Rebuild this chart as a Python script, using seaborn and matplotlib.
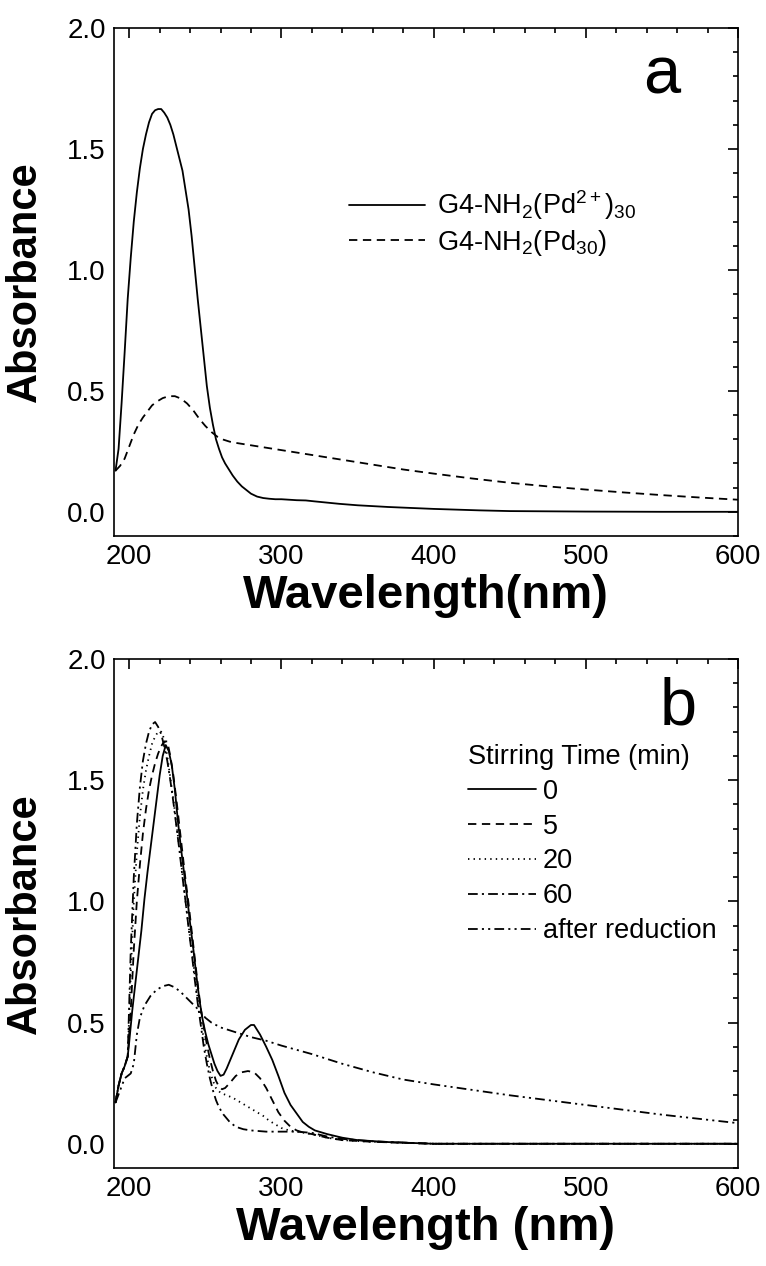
import numpy as np
import pandas as pd
import matplotlib
matplotlib.use("Agg")
import matplotlib.pyplot as plt
import seaborn as sns

# ---------------- data ----------------
# Panel a
a_wl_ion = [191, 193, 195, 197, 199, 201, 203, 205, 207, 209, 211, 213, 215, 217, 219, 221,
            223, 225, 227, 229, 231, 233, 235, 237, 239, 241, 243, 245, 247, 249, 251, 253,
            255, 257, 259, 261, 263, 265, 268, 271, 274, 277, 280, 284, 288, 292, 296, 300,
            305, 310, 316, 322, 330, 338, 350, 370, 400, 430, 450, 500, 550, 600]
a_abs_ion = [0.17, 0.26, 0.45, 0.66, 0.88, 1.05, 1.20, 1.32, 1.42, 1.50, 1.56, 1.61, 1.645, 1.66, 1.665, 1.665,
             1.65, 1.63, 1.60, 1.56, 1.51, 1.46, 1.41, 1.33, 1.25, 1.14, 1.01, 0.88, 0.76, 0.64, 0.52, 0.43,
             0.36, 0.30, 0.26, 0.225, 0.20, 0.18, 0.15, 0.125, 0.105, 0.09, 0.075, 0.063, 0.057, 0.054, 0.052, 0.052,
             0.050, 0.048, 0.047, 0.043, 0.038, 0.033, 0.027, 0.02, 0.012, 0.006, 0.003, 0.001, 0.0, 0.0]

a_wl_np = [191, 194, 197, 200, 203, 206, 209, 212, 215, 218, 222, 226, 230, 234, 238, 242,
           246, 250, 254, 258, 262, 266, 270, 275, 280, 290, 300, 320, 340, 360, 380, 400,
           425, 450, 475, 500, 525, 550, 575, 600]
a_abs_np = [0.17, 0.19, 0.22, 0.27, 0.32, 0.36, 0.39, 0.415, 0.44, 0.455, 0.47, 0.478, 0.478, 0.468, 0.448, 0.42,
            0.385, 0.355, 0.33, 0.31, 0.298, 0.29, 0.285, 0.28, 0.275, 0.265, 0.255, 0.235, 0.215, 0.195, 0.175, 0.158,
            0.138, 0.12, 0.105, 0.092, 0.08, 0.069, 0.059, 0.05]

# Panel b
b_wl_0 = [191, 193, 195, 197, 199, 200, 202, 204, 206, 208, 210, 212, 214, 216, 218, 220, 222, 224,
          226, 228, 230, 232, 234, 236, 238, 240, 242, 244, 246, 248, 250, 252, 254, 256, 258, 260,
          262, 264, 268, 272, 276, 280, 282, 286, 290, 294, 298, 302, 306, 310, 314, 318, 322,
          330, 340, 350, 370, 400, 450, 500, 600]
b_abs_0 = [0.17, 0.24, 0.29, 0.32, 0.36, 0.42, 0.55, 0.66, 0.77, 0.88, 1.01, 1.12, 1.22, 1.32, 1.42, 1.52, 1.60, 1.645,
           1.62, 1.56, 1.46, 1.33, 1.22, 1.12, 1.02, 0.91, 0.81, 0.70, 0.60, 0.52, 0.46, 0.41, 0.37, 0.33, 0.30, 0.28,
           0.285, 0.31, 0.37, 0.43, 0.47, 0.49, 0.49, 0.45, 0.40, 0.346, 0.28, 0.21, 0.16, 0.125, 0.09, 0.07, 0.055,
           0.04, 0.025, 0.015, 0.007, 0.0, 0.0, 0.0, 0.0]

b_wl_5 = [191, 193, 195, 197, 199, 201, 203, 205, 207, 209, 211, 213, 215, 217, 219, 221, 223, 225,
          227, 229, 231, 233, 235, 237, 239, 241, 243, 245, 247, 249, 251, 253, 255, 257, 259, 261,
          263, 266, 270, 274, 278, 282, 286, 290, 294, 298, 302, 306, 310, 315, 320, 330, 340, 360,
          400, 600]
b_abs_5 = [0.17, 0.24, 0.29, 0.32, 0.36, 0.55, 0.80, 1.00, 1.15, 1.28, 1.38, 1.46, 1.52, 1.57, 1.61, 1.64, 1.66, 1.66,
           1.60, 1.52, 1.42, 1.31, 1.20, 1.09, 0.99, 0.88, 0.77, 0.66, 0.56, 0.48, 0.41, 0.35, 0.30, 0.26, 0.235, 0.225,
           0.23, 0.25, 0.28, 0.295, 0.30, 0.295, 0.27, 0.23, 0.18, 0.13, 0.095, 0.07, 0.055, 0.045, 0.04, 0.025, 0.015, 0.008,
           0.0, 0.0]

b_wl_20 = [191, 193, 195, 197, 199, 201, 203, 205, 207, 209, 211, 213, 215, 217, 219, 221, 223, 225,
           227, 229, 231, 233, 235, 237, 239, 241, 243, 245, 247, 249, 251, 253, 255, 257, 260, 264,
           268, 272, 276, 280, 284, 288, 292, 296, 300, 305, 310, 320, 330, 340, 360, 400, 600]
b_abs_20 = [0.17, 0.24, 0.29, 0.32, 0.36, 0.70, 1.00, 1.20, 1.35, 1.46, 1.54, 1.60, 1.65, 1.68, 1.70, 1.70, 1.67, 1.60,
            1.51, 1.42, 1.32, 1.22, 1.11, 1.00, 0.90, 0.80, 0.70, 0.60, 0.51, 0.43, 0.36, 0.30, 0.26, 0.23, 0.21, 0.20,
            0.19, 0.175, 0.16, 0.145, 0.13, 0.115, 0.095, 0.08, 0.065, 0.055, 0.05, 0.04, 0.025, 0.015, 0.008, 0.0, 0.0]

b_wl_60 = [191, 193, 195, 197, 199, 201, 203, 205, 207, 209, 211, 213, 215, 217, 219, 221, 223, 225,
           227, 229, 231, 233, 235, 237, 239, 241, 243, 245, 247, 249, 251, 253, 255, 257, 259, 262,
           266, 270, 275, 280, 290, 300, 310, 320, 330, 340, 360, 400, 600]
b_abs_60 = [0.17, 0.24, 0.29, 0.32, 0.36, 0.80, 1.10, 1.32, 1.47, 1.58, 1.65, 1.70, 1.73, 1.74, 1.72, 1.69, 1.64, 1.58,
            1.50, 1.41, 1.31, 1.21, 1.10, 1.00, 0.89, 0.79, 0.68, 0.58, 0.49, 0.40, 0.33, 0.27, 0.22, 0.18, 0.15, 0.12,
            0.09, 0.07, 0.06, 0.055, 0.05, 0.05, 0.05, 0.045, 0.03, 0.02, 0.01, 0.0, 0.0]

b_wl_red = [191, 194, 197, 199, 201, 203, 205, 207, 210, 214, 218, 222, 226, 230, 234, 238, 242, 246,
            250, 254, 260, 270, 280, 290, 300, 320, 340, 360, 380, 400, 450, 500, 550, 600]
b_abs_red = [0.17, 0.22, 0.27, 0.28, 0.29, 0.33, 0.45, 0.52, 0.57, 0.61, 0.635, 0.65, 0.656, 0.645, 0.625, 0.60, 0.575, 0.55,
             0.52, 0.50, 0.48, 0.46, 0.44, 0.425, 0.405, 0.37, 0.33, 0.295, 0.265, 0.245, 0.20, 0.16, 0.12, 0.085]

legend_a = [r"G4-NH$_2$(Pd$^{2+}$)$_{30}$", r"G4-NH$_2$(Pd$_{30}$)"]
legend_b_title = "Stirring Time (min)"
legend_b = ["0", "5", "20", "60", "after reduction"]
x_ticks = [200, 300, 400, 500, 600]
y_ticks = [0.0, 0.5, 1.0, 1.5, 2.0]

# ---------------- style ----------------
sns.set_theme(style="white")
plt.rcParams["font.family"] = ["Liberation Sans", "DejaVu Sans"]
plt.rcParams["mathtext.fontset"] = "custom"
plt.rcParams["mathtext.rm"] = "Liberation Sans"
plt.rcParams["mathtext.it"] = "Liberation Sans"
plt.rcParams["lines.scale_dashes"] = False
plt.rcParams["text.color"] = "black"
plt.rcParams["axes.labelcolor"] = "black"
plt.rcParams["xtick.color"] = "black"
plt.rcParams["ytick.color"] = "black"

fig = plt.figure(figsize=(7.66, 12.66), dpi=100)
ax_a = fig.add_axes([114 / 766, 1 - 536 / 1266, 624 / 766, 508 / 1266])
ax_b = fig.add_axes([114 / 766, 1 - 1168 / 1266, 624 / 766, 509 / 1266])

LW = 1.3
styles_b = ["-", (0, (6, 4)), (0, (1, 3)), (0, (7, 3, 1.5, 3)), (0, (7, 3, 1.5, 3, 1.5, 3))]

df_a = pd.concat([
    pd.DataFrame({"wl": a_wl_ion, "A": a_abs_ion, "s": legend_a[0]}),
    pd.DataFrame({"wl": a_wl_np, "A": a_abs_np, "s": legend_a[1]}),
])
for name, ls in zip(legend_a, ["-", (0, (6, 4))]):
    d = df_a[df_a["s"] == name]
    sns.lineplot(data=d, x="wl", y="A", ax=ax_a, color="black", lw=LW,
                 linestyle=ls, label=name, estimator=None, sort=False)

series_b = [(b_wl_0, b_abs_0), (b_wl_5, b_abs_5), (b_wl_20, b_abs_20),
            (b_wl_60, b_abs_60), (b_wl_red, b_abs_red)]
for (wl, ab), name, ls in zip(series_b, legend_b, styles_b):
    d = pd.DataFrame({"wl": wl, "A": ab})
    sns.lineplot(data=d, x="wl", y="A", ax=ax_b, color="black", lw=LW,
                 linestyle=ls, label=name, estimator=None, sort=False)

for ax, xl in [(ax_a, "Wavelength(nm)"), (ax_b, "Wavelength (nm)")]:
    ax.set_xlim(190, 600)
    ax.set_ylim(-0.1, 2.0)
    ax.set_xticks(x_ticks)
    ax.set_yticks(y_ticks)
    ax.set_xticklabels([str(v) for v in x_ticks])
    ax.set_yticklabels([f"{v:.1f}" for v in y_ticks])
    ax.xaxis.set_minor_locator(matplotlib.ticker.MultipleLocator(20))
    ax.yaxis.set_minor_locator(matplotlib.ticker.MultipleLocator(0.1))
    ax.tick_params(which="both", direction="in", top=True, right=True, color="black", width=1.2)
    ax.tick_params(which="major", length=7, labelsize=20, pad=6, labelcolor="black")
    ax.tick_params(which="minor", length=3.5)
    for sp in ax.spines.values():
        sp.set_color("black")
        sp.set_linewidth(1.2)
    ax.set_xlabel(xl, fontsize=34, fontweight="bold", color="black")
    ax.set_ylabel("Absorbance", fontsize=30, fontweight="bold", color="black")
    ax.yaxis.set_label_coords(-0.11, 0.5)
    ax.xaxis.set_label_coords(0.5, -0.075)
    ax.grid(False)

ax_a.text(0.877, 0.905, "a", transform=ax_a.transAxes, fontsize=48, ha="center", va="center", color="black")
ax_b.text(0.905, 0.905, "b", transform=ax_b.transAxes, fontsize=48, ha="center", va="center", color="black")

ax_a.legend(loc="upper left", bbox_to_anchor=(0.36, 0.705), frameon=False, fontsize=19.5,
            handlelength=2.8, handletextpad=0.45, labelspacing=0.2, borderaxespad=0,
            labelcolor="black")
ax_b.legend(title=legend_b_title, loc="upper left", bbox_to_anchor=(0.55, 0.855), frameon=False,
            fontsize=19.5, title_fontsize=19.5, handlelength=2.5, handletextpad=0.25,
            labelspacing=0.33, borderaxespad=0, alignment="left", labelcolor="black")

fig.savefig("out.png", dpi=100)
